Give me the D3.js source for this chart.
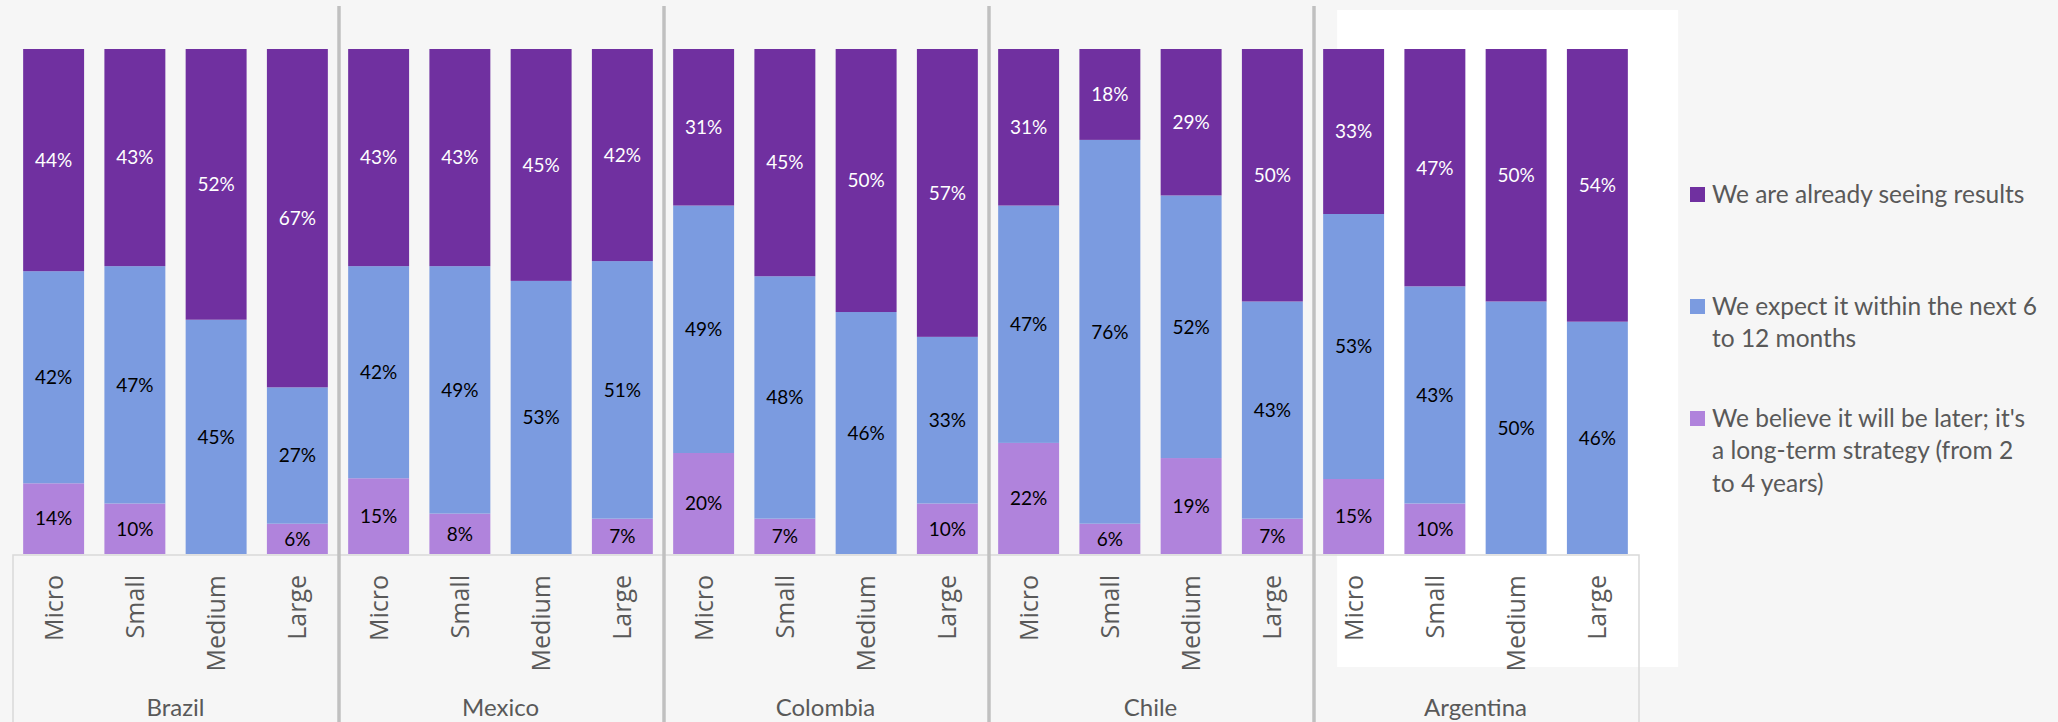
<!DOCTYPE html>
<html>
<head>
<meta charset="utf-8">
<script src="https://cdn.jsdelivr.net/npm/d3@7"></script>
<style>
  html, body { margin: 0; padding: 0; background: #f6f6f6; }
  svg { display: block; }
</style>
</head>
<body>
<svg id="chart" width="2058" height="722"></svg>
<script>
// Survey answers by country and company size (percent of respondents)
const countries = ["Brazil", "Mexico", "Colombia", "Chile", "Argentina"];
const sizes = ["Micro", "Small", "Medium", "Large"];

// One value per country × size, in the order countries × sizes
const seeingResults = [44, 43, 52, 67,  43, 43, 45, 42,  31, 45, 50, 57,  31, 18, 29, 50,  33, 47, 50, 54];
const expectSoon    = [42, 47, 45, 27,  42, 49, 53, 51,  49, 48, 46, 33,  47, 76, 52, 43,  53, 43, 50, 46];
const longTerm      = [14, 10,  0,  6,  15,  8,  0,  7,  20,  7,  0, 10,  22,  6, 19,  7,  15, 10,  0,  0];

const seriesNames = [
  "We are already seeing results",
  "We expect it within the next 6 to 12 months",
  "We believe it will be later; it's a long-term strategy (from 2 to 4 years)"
];

const rows = [];
countries.forEach((c, ci) => sizes.forEach((s, si) => {
  const i = ci * sizes.length + si;
  rows.push({
    key: c + "|" + s, country: c, size: s,
    longTerm: longTerm[i], expectSoon: expectSoon[i], seeingResults: seeingResults[i]
  });
}));

const keys = ["longTerm", "expectSoon", "seeingResults"];   // bottom → top
const colors = { seeingResults: "#7030a0", expectSoon: "#7b9be0", longTerm: "#b083dc" };
const labelColors = { seeingResults: "#ffffff", expectSoon: "#000000", longTerm: "#000000" };

const svg = d3.select("#chart");

const x = d3.scaleBand()
  .domain(rows.map(d => d.key))
  .range([13, 1638])
  .paddingInner(0.25)
  .paddingOuter(0.125);

const y = d3.scaleLinear().domain([0, 1]).range([554, 49]);

const stack = d3.stack().keys(keys).offset(d3.stackOffsetExpand);
const layers = stack(rows);

const groupWidth = x.step() * sizes.length;
const groupStart = ci => 13 + ci * groupWidth;

// Highlighted panel behind the last country
svg.append("rect")
  .attr("x", x(rows[16].key) + 14).attr("y", 10)
  .attr("width", 341).attr("height", 657)
  .attr("fill", "#ffffff");

// Stacked bars
const layerG = svg.append("g").selectAll("g")
  .data(layers).join("g")
  .attr("fill", d => colors[d.key]);

layerG.selectAll("rect")
  .data(d => d.map(v => ({ v, key: d.key })))
  .join("rect")
  .attr("x", d => x(d.v.data.key))
  .attr("width", x.bandwidth())
  .attr("y", d => y(d.v[1]))
  .attr("height", d => y(d.v[0]) - y(d.v[1]));

// Value labels
const labelG = svg.append("g")
  .attr("font-family", "Lato, 'Open Sans', sans-serif")
  .attr("font-size", 19)
  .attr("text-anchor", "middle");

layers.forEach(layer => {
  labelG.selectAll(null)
    .data(layer.filter(v => v.data[layer.key] > 0))
    .join("text")
    .attr("x", v => x(v.data.key) + x.bandwidth() / 2)
    .attr("y", v => (y(v[0]) + y(v[1])) / 2)
    .attr("dy", "0.36em")
    .attr("fill", labelColors[layer.key])
    .text(v => v.data[layer.key] + "%");
});

// Category axis box
const axisG = svg.append("g");
axisG.append("path")
  .attr("d", `M13,722 V555 H1639 V722`)
  .attr("fill", "none")
  .attr("stroke", "#d9d9d9")
  .attr("stroke-width", 1.5);

// Country separators
axisG.selectAll("line.sep")
  .data(countries.slice(1))
  .join("line")
  .attr("class", "sep")
  .attr("x1", (d, i) => groupStart(i + 1) + 1)
  .attr("x2", (d, i) => groupStart(i + 1) + 1)
  .attr("y1", 6).attr("y2", 722)
  .attr("stroke", "#c0c0c0")
  .attr("stroke-width", 3.5);

// Size labels (rotated)
axisG.selectAll("text.size")
  .data(rows)
  .join("text")
  .attr("class", "size")
  .attr("transform", d => `translate(${x(d.key) + x.bandwidth() / 2},575) rotate(-90)`)
  .attr("dy", "0.36em")
  .attr("text-anchor", "end")
  .attr("font-family", "'Open Sans', 'Noto Sans', sans-serif")
  .attr("font-size", 25)
  .attr("fill", "#595959")
  .text(d => d.size);

// Country labels
axisG.selectAll("text.country")
  .data(countries)
  .join("text")
  .attr("class", "country")
  .attr("x", (d, i) => groupStart(i) + groupWidth / 2)
  .attr("y", 716)
  .attr("text-anchor", "middle")
  .attr("font-family", "Lato, sans-serif")
  .attr("font-size", 24)
  .attr("fill", "#595959")
  .text(d => d);

// Legend
const legendLines = [
  ["We are already seeing results"],
  ["We expect it within the next 6", "to 12 months"],
  ["We believe it will be later; it's", "a long-term strategy (from 2", "to 4 years)"]
];
const legendKeys = ["seeingResults", "expectSoon", "longTerm"];
const legendTop = [187, 299, 411];

const legend = svg.append("g")
  .attr("font-family", "Lato, sans-serif")
  .attr("font-size", 24.5)
  .attr("fill", "#595959");

legendKeys.forEach((k, i) => {
  legend.append("rect")
    .attr("x", 1690).attr("y", legendTop[i])
    .attr("width", 15).attr("height", 15)
    .attr("fill", colors[k]);
  const t = legend.append("text")
    .attr("x", 1712).attr("y", legendTop[i] + 15.5);
  legendLines[i].forEach((line, j) => {
    t.append("tspan")
      .attr("x", 1712)
      .attr("dy", j === 0 ? 0 : 32.8)
      .text(line);
  });
});
</script>
</body>
</html>
